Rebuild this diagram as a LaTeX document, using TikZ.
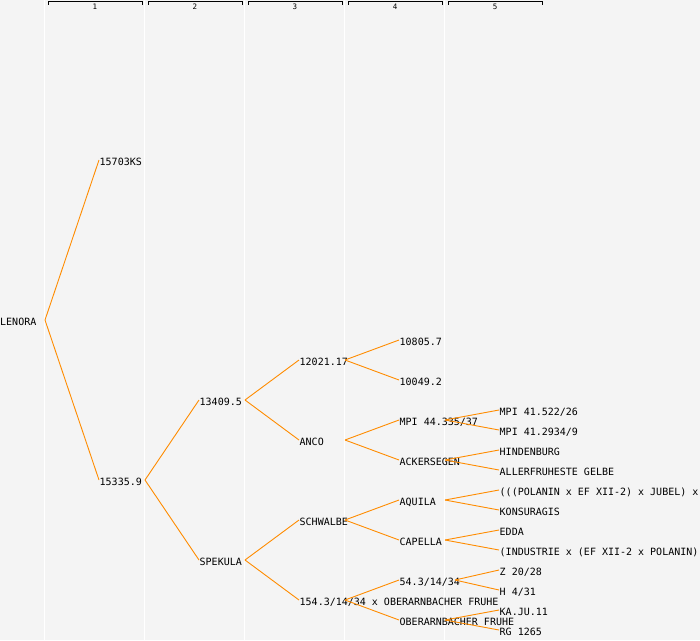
\documentclass[tikz,border=0pt]{standalone}
\usepackage{fontspec}
\setmonofont{DejaVu Sans Mono}
\definecolor{bg}{HTML}{F4F4F4}
\definecolor{edge}{HTML}{FF8C00}
\begin{document}
\begin{tikzpicture}[x=1pt,y=-1pt,
  lbl/.style={anchor=west,inner sep=0pt,font=\ttfamily\fontsize{10}{10}\selectfont,text=black},
  hdr/.style={inner sep=0pt,font=\ttfamily\fontsize{7.5}{7.5}\selectfont,text=black},
  conn/.style={draw=edge,line width=0.9pt},
  col/.style={draw=white,line width=1pt},
  brk/.style={draw=black,line width=1pt}]
\fill[bg] (0,0) rectangle (700,640);
\useasboundingbox (0,0) rectangle (700,640);
\clip (0,0) rectangle (700,640);
% column lines
\foreach \cx in {44.5,144.5,244.5,344.5,444.5}{
  \draw[col] (\cx,0) -- (\cx,640);
}
% header brackets
\foreach \i in {1,...,5}{
  \pgfmathsetmacro{\xa}{48+100*(\i-1)}
  \pgfmathsetmacro{\xb}{142+100*(\i-1)}
  \pgfmathsetmacro{\xc}{95+100*(\i-1)}
  \draw[brk] (\xa,4.5) -- (\xa,1.5) -- (\xb,1.5) -- (\xb,4.5);
  \node[hdr] (h\i) at (\xc,7) {\i};
}
% nodes
\node[lbl] (r) at (0,322) {LENORA};
\node[lbl] (a1) at (99.5,162) {15703KS};
\node[lbl] (a2) at (99.5,482) {15335.9};
\node[lbl] (b1) at (199.5,402) {13409.5};
\node[lbl] (b2) at (199.5,562) {SPEKULA};
\node[lbl] (c1) at (299.5,362) {12021.17};
\node[lbl] (c2) at (299.5,442) {ANCO};
\node[lbl] (c3) at (299.5,522) {SCHWALBE};
\node[lbl] (c4) at (299.5,602) {154.3/14/34 x OBERARNBACHER FRUHE};
\node[lbl] (d1) at (399.5,342) {10805.7};
\node[lbl] (d2) at (399.5,382) {10049.2};
\node[lbl] (d3) at (399.5,422) {MPI 44.335/37};
\node[lbl] (d4) at (399.5,462) {ACKERSEGEN};
\node[lbl] (d5) at (399.5,502) {AQUILA};
\node[lbl] (d6) at (399.5,542) {CAPELLA};
\node[lbl] (d7) at (399.5,582) {54.3/14/34};
\node[lbl] (d8) at (399.5,622) {OBERARNBACHER FRUHE};
\node[lbl] (e1) at (499.5,412) {MPI 41.522/26};
\node[lbl] (e2) at (499.5,432) {MPI 41.2934/9};
\node[lbl] (e3) at (499.5,452) {HINDENBURG};
\node[lbl] (e4) at (499.5,472) {ALLERFRUHESTE GELBE};
\node[lbl] (e5) at (499.5,492) {(((POLANIN x EF XII-2) x JUBEL) x};
\node[lbl] (e6) at (499.5,512) {KONSURAGIS};
\node[lbl] (e7) at (499.5,532) {EDDA};
\node[lbl] (e8) at (499.5,552) {(INDUSTRIE x (EF XII-2 x POLANIN))};
\node[lbl] (e9) at (499.5,572) {Z 20/28};
\node[lbl] (e10) at (499.5,592) {H 4/31};
\node[lbl] (e11) at (499.5,612) {KA.JU.11};
\node[lbl] (e12) at (499.5,632) {RG 1265};
% branch origins
\coordinate (ro) at (45,320);
\coordinate (a2o) at (145,480);
\coordinate (b1o) at (245,400);
\coordinate (b2o) at (245,560);
\coordinate (c1o) at (345,360);
\coordinate (c2o) at (345,440);
\coordinate (c3o) at (345,520);
\coordinate (c4o) at (345,600);
\coordinate (d3o) at (445,420);
\coordinate (d4o) at (445,460);
\coordinate (d5o) at (445,500);
\coordinate (d6o) at (445,540);
\coordinate (d7o) at (455,580);
\coordinate (d8o) at (445,620);
% connectors
\foreach \p/\c in {ro/a1,ro/a2,a2o/b1,a2o/b2,b1o/c1,b1o/c2,b2o/c3,b2o/c4,
  c1o/d1,c1o/d2,c2o/d3,c2o/d4,c3o/d5,c3o/d6,c4o/d7,c4o/d8,
  d3o/e1,d3o/e2,d4o/e3,d4o/e4,d5o/e5,d5o/e6,d6o/e7,d6o/e8,d7o/e9,d7o/e10,d8o/e11,d8o/e12}{
  \draw[conn] (\p) -- ([xshift=-0.5pt,yshift=2pt]\c.west);
}
\end{tikzpicture}
\end{document}
